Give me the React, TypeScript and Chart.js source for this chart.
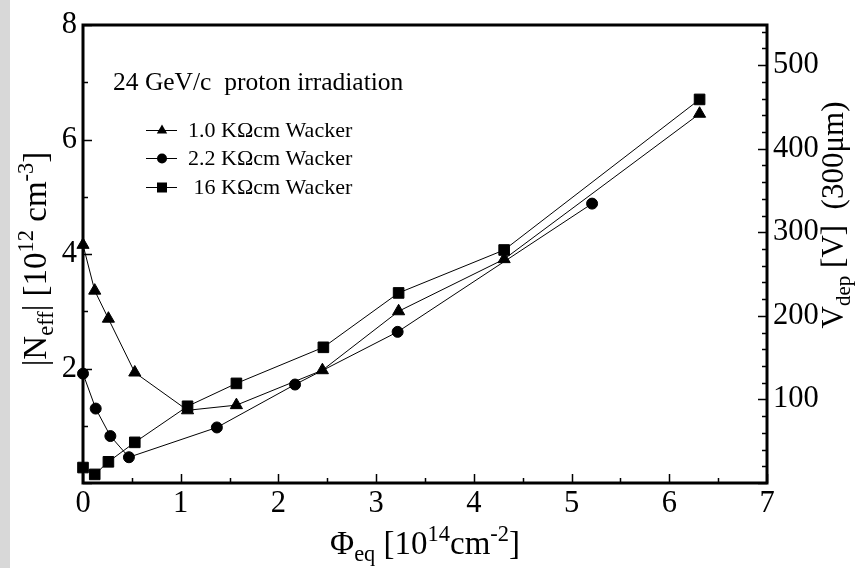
import React, { useEffect, useRef } from 'react';
import { Chart, registerables } from 'chart.js';
Chart.register(...registerables);

// ---- data ----
const fluence1 = [0, 0.12, 0.26, 0.53, 1.07, 1.57, 2.45, 3.23, 4.31, 6.31];
const neff1 = [4.16, 3.36, 2.87, 1.93, 1.27, 1.36, 1.97, 3.0, 3.91, 6.45];
const fluence2 = [0, 0.13, 0.28, 0.47, 1.37, 2.17, 3.22, 5.21];
const neff2 = [1.91, 1.3, 0.82, 0.45, 0.97, 1.72, 2.64, 4.88];
const fluence3 = [0, 0.12, 0.26, 0.53, 1.07, 1.57, 2.46, 3.23, 4.31, 6.31];
const neff3 = [0.27, 0.15, 0.37, 0.71, 1.34, 1.74, 2.37, 3.32, 4.07, 6.7];
const seriesLabels = ['1.0 KΩcm Wacker', '2.2 KΩcm Wacker', ' 16 KΩcm Wacker'];
const seriesStyles = ['triangle', 'circle', 'rect'];
const seriesRadius = [7, 5.5, 7.5];
const titleText = '24 GeV/c  proton irradiation';
const xMin = 0;
const xMax = 7;
const xMinorStep = 0.5;
const neffMin = 0;
const neffMax = 8;
const neffMinorStep = 1;
const vdepMin = 0;
const vdepMax = 548;
const vdepMinorStep = 20;

const FONT = '"Liberation Serif", "DejaVu Serif", serif';

type Seg = { t: string; k?: 'sub' | 'sup' };

function segWidth(ctx: CanvasRenderingContext2D, segs: Seg[], size: number) {
  let w = 0;
  for (const s of segs) {
    const fs = s.k ? size * 0.68 : size;
    ctx.font = `${fs}px ${FONT}`;
    w += ctx.measureText(s.t).width;
  }
  return w;
}

function drawRich(ctx: CanvasRenderingContext2D, segs: Seg[], size: number, x: number, y: number) {
  let cx = x;
  ctx.textBaseline = 'alphabetic';
  ctx.textAlign = 'left';
  for (const s of segs) {
    const fs = s.k ? size * 0.68 : size;
    ctx.font = `${fs}px ${FONT}`;
    const dy = s.k === 'sub' ? size * 0.22 : s.k === 'sup' ? -size * 0.38 : 0;
    ctx.fillText(s.t, cx, y + dy);
    cx += ctx.measureText(s.t).width;
  }
}

function marker(ctx: CanvasRenderingContext2D, style: string, x: number, y: number) {
  ctx.beginPath();
  if (style === 'triangle') {
    const r = 6;
    ctx.moveTo(x, y - r);
    ctx.lineTo(x + r * 0.866, y + r * 0.5);
    ctx.lineTo(x - r * 0.866, y + r * 0.5);
    ctx.closePath();
  } else if (style === 'circle') {
    ctx.arc(x, y, 5, 0, Math.PI * 2);
  } else {
    ctx.rect(x - 5, y - 5, 10, 10);
  }
  ctx.fill();
}

const decorPlugin = {
  id: 'decor',
  beforeDraw(chart: any) {
    const ctx = chart.ctx as CanvasRenderingContext2D;
    ctx.save();
    ctx.fillStyle = '#d8d8d8';
    ctx.fillRect(0, 0, 10, chart.height);
    ctx.restore();
  },
  afterDraw(chart: any) {
    const ctx = chart.ctx as CanvasRenderingContext2D;
    const { left, right, top, bottom } = chart.chartArea;
    const xs = chart.scales.x;
    const ys = chart.scales.y;
    const y2 = chart.scales.y2;
    ctx.save();
    ctx.strokeStyle = '#000';
    ctx.lineWidth = 1.5;
    ctx.beginPath();
    for (let v = xMin; v <= xMax + 1e-9; v += xMinorStep) {
      const p = Math.round(xs.getPixelForValue(v)) + 0.5;
      const len = Math.abs(v - Math.round(v)) < 1e-9 ? 9 : 5;
      ctx.moveTo(p, bottom);
      ctx.lineTo(p, bottom - len);
    }
    for (let v = neffMin; v <= neffMax + 1e-9; v += neffMinorStep) {
      const p = Math.round(ys.getPixelForValue(v)) + 0.5;
      const len = Math.round(v) % 2 === 0 ? 9 : 5;
      ctx.moveTo(left, p);
      ctx.lineTo(left + len, p);
    }
    for (let v = vdepMin; v <= vdepMax + 1e-9; v += vdepMinorStep) {
      const p = Math.round(y2.getPixelForValue(v)) + 0.5;
      const len = Math.round(v) % 100 === 0 ? 9 : 5;
      ctx.moveTo(right, p);
      ctx.lineTo(right - len, p);
    }
    ctx.stroke();
    ctx.lineWidth = 3;
    ctx.strokeRect(left, top, right - left, bottom - top);

    ctx.fillStyle = '#000';
    ctx.font = `25.5px ${FONT}`;
    ctx.textBaseline = 'alphabetic';
    ctx.textAlign = 'left';
    ctx.fillText(titleText, 113, 90);

    // legend
    const rows = [130, 158, 187];
    chart.data.datasets.forEach((ds: any, i: number) => {
      const yy = rows[i];
      ctx.lineWidth = 1;
      ctx.beginPath();
      ctx.moveTo(146, yy + 0.5);
      ctx.lineTo(177, yy + 0.5);
      ctx.stroke();
      ctx.fillStyle = '#000';
      marker(ctx, ds.pointStyle, 162, yy + 0.5);
      ctx.font = `22px ${FONT}`;
      ctx.textBaseline = 'middle';
      ctx.textAlign = 'left';
      ctx.fillText(ds.label, 188, yy + 1);
    });

    const size = 33;
    const xt: Seg[] = [{ t: 'Φ' }, { t: 'eq', k: 'sub' }, { t: ' [10' }, { t: '14', k: 'sup' }, { t: 'cm' }, { t: '-2', k: 'sup' }, { t: ']' }];
    const xw = segWidth(ctx, xt, size);
    drawRich(ctx, xt, size, (left + right) / 2 - xw / 2, 554);

    const lt: Seg[] = [{ t: '|N' }, { t: 'eff', k: 'sub' }, { t: '| [10' }, { t: '12', k: 'sup' }, { t: ' cm' }, { t: '-3', k: 'sup' }, { t: ']' }];
    const lw = segWidth(ctx, lt, size);
    ctx.save();
    ctx.translate(46, 259);
    ctx.rotate(-Math.PI / 2);
    drawRich(ctx, lt, size, -lw / 2, 0);
    ctx.restore();

    const rt: Seg[] = [{ t: 'V' }, { t: 'dep', k: 'sub' }, { t: ' [V]  (300μm)' }];
    const rw = segWidth(ctx, rt, 31);
    ctx.save();
    ctx.translate(843, 215);
    ctx.rotate(-Math.PI / 2);
    drawRich(ctx, rt, 31, -rw / 2, 0);
    ctx.restore();

    ctx.restore();
  },
};

export default function App() {
  const ref = useRef<HTMLCanvasElement | null>(null);
  useEffect(() => {
    if (!ref.current) return;
    const mk = (xs: number[], ys: number[]) => xs.map((x, i) => ({ x, y: ys[i] }));
    const sets = [mk(fluence1, neff1), mk(fluence2, neff2), mk(fluence3, neff3)];
    const tickFont = { family: FONT, size: 30.5 };
    const chart = new Chart(ref.current, {
      type: 'scatter',
      data: {
        datasets: sets.map((d, i) => ({
          label: seriesLabels[i],
          data: d,
          showLine: true,
          borderColor: '#000',
          borderWidth: 1,
          backgroundColor: '#000',
          pointBackgroundColor: '#000',
          pointBorderColor: '#000',
          pointBorderWidth: 1,
          pointStyle: seriesStyles[i] as any,
          pointRadius: seriesRadius[i],
          yAxisID: 'y',
          clip: false as any,
        })),
      },
      options: {
        animation: false,
        responsive: true,
        maintainAspectRatio: false,
        layout: { padding: { top: 25, left: 0, right: 0, bottom: 0 } },
        plugins: { legend: { display: false }, tooltip: { enabled: false } },
        scales: {
          x: {
            type: 'linear',
            min: xMin,
            max: xMax,
            grid: { display: false, drawTicks: false },
            border: { display: false },
            ticks: { stepSize: 1, font: tickFont, color: '#000', padding: 3, maxRotation: 0 },
            afterFit: (s: any) => { s.height = 85; },
          },
          y: {
            type: 'linear',
            position: 'left',
            min: neffMin,
            max: neffMax,
            grid: { display: false, drawTicks: false },
            border: { display: false },
            ticks: {
              stepSize: 2,
              font: tickFont,
              color: '#000',
              padding: 6,
              callback: (v: any) => (Number(v) === 0 ? '' : String(v)),
            },
            afterFit: (s: any) => { s.width = 83; },
          },
          y2: {
            type: 'linear',
            position: 'right',
            display: true,
            min: vdepMin,
            max: vdepMax,
            grid: { display: false, drawTicks: false },
            border: { display: false },
            ticks: {
              stepSize: 100,
              includeBounds: false,
              font: tickFont,
              color: '#000',
              padding: 6,
              callback: (v: any) => (Number(v) % 100 === 0 && Number(v) !== 0 ? String(v) : ''),
            },
            afterFit: (s: any) => { s.width = 94; },
          },
        },
      },
      plugins: [decorPlugin],
    } as any);
    return () => chart.destroy();
  }, []);
  return (
    <div style={{ position: 'absolute', left: 0, top: 0, width: 861, height: 568, background: '#fff' }}>
      <canvas ref={ref} />
    </div>
  );
}
